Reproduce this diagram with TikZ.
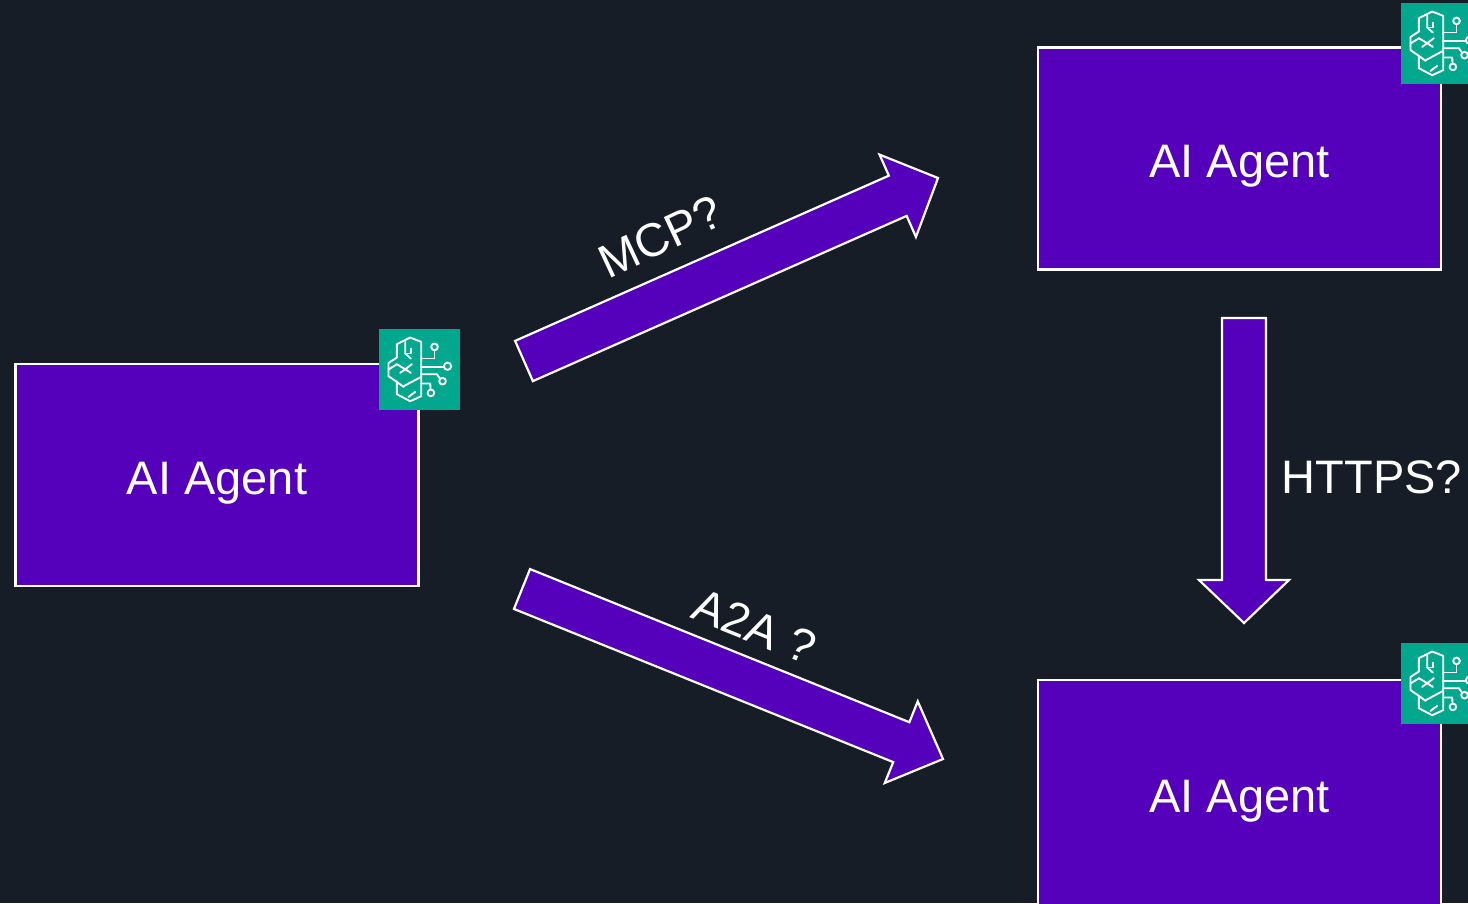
\documentclass[tikz,border=0pt]{standalone}
\usepackage{fontspec}
\setmainfont{Liberation Sans}
\usetikzlibrary{calc}
\definecolor{bgc}{HTML}{161D26}
\definecolor{agentc}{HTML}{5500BB}
\definecolor{tealc}{HTML}{01A88D}
\tikzset{
  agent/.style={draw=white,line width=2.4pt,fill=agentc,text=white,font=\fontsize{47}{47}\selectfont,minimum width=403pt,minimum height=222pt,inner sep=0pt,text height=38pt,text depth=0pt},
  lbl/.style={text=white,font=\fontsize{47}{47}\selectfont,inner sep=0pt,text height=34pt,text depth=0pt},
  blockarrow/.style={draw=white,line width=2.2pt,fill=agentc,miter limit=10},
  iconbox/.style={fill=tealc,draw=none,minimum size=81pt,inner sep=0pt,anchor=north west},
  brain/.style={draw=white,line width=1.9pt,line join=round,line cap=round},
  pics/brainicon/.style={code={
    \begin{scope}[xscale=1/3,yscale=1/3,shift={(-148.5,-148.5)},brain]
      \draw (120,52)--(80,72)--(80,112)--(55,128)--(55,168)--(80,185)--(80,222)--(120,243)--(153,228)--(153,65)--cycle;
      \draw (105,65)--(105,100)--(122,115);
      \draw (122,85)--(122,100)--(105,100);
      \draw (55,148)--(80,132)--(105,147)--(125,132);
      \draw (105,147)--(90,158);
      \draw (105,147)--(122,158);
      \draw (80,185)--(100,200);
      \draw (100,198)--(153,170);
      \draw (115,230)--(135,215);
      \draw (153,115)--(193,115)--(193,91);
      \draw (193,80) circle[radius=10];
      \draw (153,140)--(221,140);
      \draw (232,138) circle[radius=11];
      \draw (153,162)--(200,162)--(209,175);
      \draw (217,183) circle[radius=10];
      \draw (153,190)--(180,190)--(181,207);
      \draw (182,218) circle[radius=10];
    \end{scope}
  }}
}
% tail, tip, half shaft width, half head width, head length
\newcommand{\bigarrow}[5]{%
  \coordinate (hb) at ($(#2)!#5!(#1)$);
  \draw[blockarrow]
    ($(#1)!#3!-90:(#2)$) -- ($(hb)!#3!-90:(#2)$) -- ($(hb)!#4!-90:(#2)$) -- (#2)
    -- ($(hb)!#4!90:(#2)$) -- ($(hb)!#3!90:(#2)$) -- ($(#1)!#3!90:(#2)$) -- cycle;
}
\begin{document}
\begin{tikzpicture}[x=1pt,y=-1pt]
  \useasboundingbox (0,0) rectangle (1468,903);
  \fill[bgc] (0,0) rectangle (1468,903);
  \clip (0,0) rectangle (1468,903);
  \node[agent] (left) at (217,475) {AI Agent};
  \node[agent] (top) at (1239.5,158.5) {AI Agent};
  \node[agent,minimum height=226pt] (bottom) at (1239.5,793) {AI Agent};
  \node[iconbox] (ileft) at (379,329) {};
  \node[iconbox] (itop) at (1401,3) {};
  \node[iconbox] (ibottom) at (1401,643) {};
  \pic at (ileft.center) {brainicon};
  \pic at (itop.center) {brainicon};
  \pic at (ibottom.center) {brainicon};
  \coordinate (m1) at (524,361);
  \coordinate (m2) at (938,178);
  \coordinate (a1) at (522,589);
  \coordinate (a2) at (943,759);
  \coordinate (h1) at (1244,318);
  \coordinate (h2) at (1244,623);
  \bigarrow{m1}{m2}{22pt}{45pt}{44pt}
  \bigarrow{a1}{a2}{21.5pt}{44pt}{45pt}
  \bigarrow{h1}{h2}{22pt}{45pt}{43pt}
  \node[lbl,rotate=25] (lm) at (660,236) {MCP?};
  \node[lbl,rotate=-22] (la) at (755,626) {A2A ?};
  \node[lbl] (lh) at (1372,476) {HTTPS?};
\end{tikzpicture}
\end{document}
